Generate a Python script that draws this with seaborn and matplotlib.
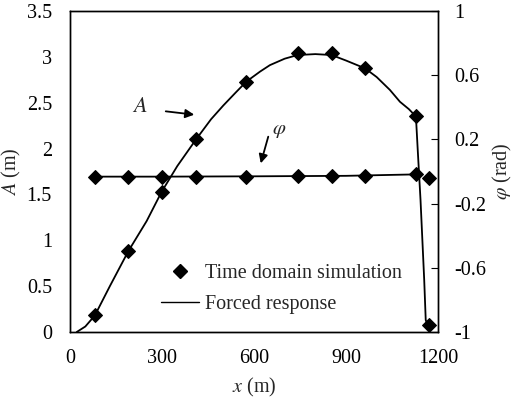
import matplotlib
matplotlib.use("Agg")
import matplotlib.pyplot as plt
import seaborn as sns
import pandas as pd
from matplotlib.lines import Line2D

# ---- data ----
x_sim = [81, 190, 299, 411, 575, 742, 853, 962, 1128, 1172]
A_sim = [0.18, 0.88, 1.53, 2.10, 2.73, 3.04, 3.04, 2.875, 2.35, 0.08]
phi_sim = [-0.032, -0.032, -0.032, -0.032, -0.032, -0.030, -0.030, -0.028, -0.018, -0.042]

x_fr_A = [22, 50, 81, 130, 190, 250, 299, 350, 411, 460, 500, 540, 575, 620, 652, 700,
          742, 800, 853, 900, 962, 1000, 1043, 1076, 1105, 1128, 1134, 1143, 1155, 1160, 1168]
A_fr = [0.0, 0.06, 0.18, 0.50, 0.88, 1.21, 1.53, 1.81, 2.10, 2.32, 2.47, 2.61, 2.73, 2.84, 2.91, 2.98,
        3.02, 3.03, 3.02, 2.96, 2.875, 2.78, 2.64, 2.51, 2.43, 2.35, 1.98, 1.44, 0.57, 0.13, 0.06]

x_fr_phi = [81, 300, 600, 900, 1128, 1140]
phi_fr = [-0.032, -0.032, -0.030, -0.027, -0.018, -0.018]

x_ticks = [0, 300, 600, 900, 1200]
A_ticks = [0, 0.5, 1, 1.5, 2, 2.5, 3, 3.5]
phi_ticks = [-1, -0.6, -0.2, 0.2, 0.6, 1]

sns.set_style("white")
plt.rcParams['font.family'] = ['Liberation Serif', 'DejaVu Serif']
plt.rcParams['mathtext.fontset'] = 'stix'

fig = plt.figure(figsize=(5.16, 3.98), dpi=100)
ax = fig.add_axes([70/516, 1-332/398, 368/516, 321/398])
ax2 = ax.twinx()

dfA = pd.DataFrame({"x": x_fr_A, "A": A_fr})
dfAs = pd.DataFrame({"x": x_sim, "A": A_sim})
dfP = pd.DataFrame({"x": x_fr_phi, "phi": phi_fr})
dfPs = pd.DataFrame({"x": x_sim, "phi": phi_sim})

sns.lineplot(data=dfA, x="x", y="A", ax=ax, color="black", lw=1.3, sort=False, zorder=2)
sns.lineplot(data=dfAs, x="x", y="A", ax=ax, color="black", lw=0, marker="D",
             markersize=7.5, markeredgecolor="black", zorder=3)
sns.lineplot(data=dfP, x="x", y="phi", ax=ax2, color="black", lw=1.3, sort=False, zorder=2)
sns.lineplot(data=dfPs, x="x", y="phi", ax=ax2, color="black", lw=0, marker="D",
             markersize=7.5, markeredgecolor="black", zorder=3)

ax.set_xlim(0, 1200)
ax.set_ylim(0, 3.5)
ax2.set_ylim(-1, 1)
ax.set_xticks(x_ticks)
ax.set_xticklabels([str(t) for t in x_ticks])
ax.set_yticks(A_ticks)
ax.set_yticklabels(["0", "0.5", "1", "1.5", "2", "2.5", "3", "3.5"])
ax2.set_yticks(phi_ticks)
ax2.set_yticklabels(["-1", "-0.6", "-0.2", "0.2", "0.6", "1"])

fs = 14.5
ax.tick_params(axis="x", length=0, labelsize=fs, colors="black", pad=12)
ax.tick_params(axis="y", length=0, labelsize=fs, colors="black", pad=13)
ax2.tick_params(axis="y", direction="in", length=5, width=0.8, labelsize=fs, pad=12, colors="black")
for a in (ax, ax2):
    for s in a.spines.values():
        s.set_color("black")
        s.set_linewidth(1.0)

ax.set_xlabel(r"$\mathit{x}$ (m)", fontsize=fs, labelpad=6)
ax.set_ylabel(r"$\mathit{A}$ (m)", fontsize=fs, labelpad=3)
ax2.set_ylabel(r"$\varphi$ (rad)", fontsize=fs, rotation=90, labelpad=3)

# annotations
fig.text(140/516, 1-107/398, r"$\mathit{A}$", fontsize=16, ha="center", va="center")
ax.annotate("", xy=(197/516, 1-115/398), xytext=(163/516, 1-111/398),
            xycoords="figure fraction", textcoords="figure fraction",
            arrowprops=dict(arrowstyle="-|>", color="black", lw=1.3, mutation_scale=13))
fig.text(279/516, 1-131/398, r"$\varphi$", fontsize=15, ha="center", va="center")
ax.annotate("", xy=(260/516, 1-166/398), xytext=(269/516, 1-134/398),
            xycoords="figure fraction", textcoords="figure fraction",
            arrowprops=dict(arrowstyle="-|>", color="black", lw=1.3, mutation_scale=13))

handles = [Line2D([], [], color="black", lw=0, marker="D", markersize=7.5),
           Line2D([], [], color="black", lw=1.0)]
leg = ax.legend(handles, ["Time domain simulation", "Forced response"],
                loc="center left", bbox_to_anchor=(143/516, 1-289/398),
                bbox_transform=fig.transFigure, frameon=False, fontsize=fs,
                handlelength=1.9, handletextpad=0.26, labelspacing=0.6)

fig.savefig("out.png", dpi=100)
